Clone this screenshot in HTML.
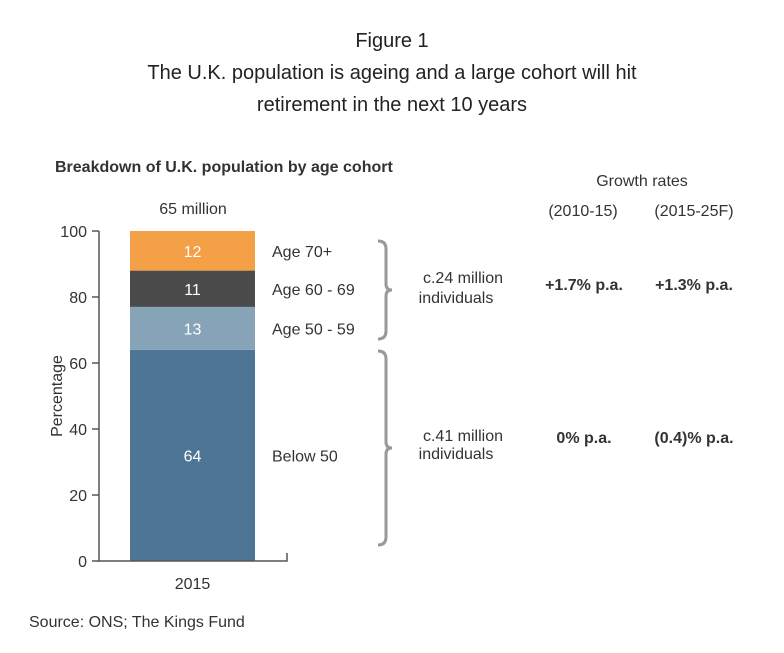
<!DOCTYPE html>
<html><head><meta charset="utf-8"><style>
body{margin:0;background:#fff;font-family:"Liberation Sans",sans-serif;}
svg text{font-family:"Liberation Sans",sans-serif;}
</style></head><body>
<svg width="784" height="648" viewBox="0 0 784 648">
<text x="392" y="47" text-anchor="middle" font-size="20" fill="#222">Figure 1</text>
<text x="392" y="79" text-anchor="middle" font-size="20" fill="#222">The U.K. population is ageing and a large cohort will hit</text>
<text x="392" y="111" text-anchor="middle" font-size="20" fill="#222">retirement in the next 10 years</text>
<text x="55" y="172" font-size="16" font-weight="bold" fill="#333">Breakdown of U.K. population by age cohort</text>
<text x="193" y="214" text-anchor="middle" font-size="16" fill="#333">65 million</text>
<text x="642" y="186" text-anchor="middle" font-size="16" fill="#333">Growth rates</text>
<text x="583" y="216" text-anchor="middle" font-size="16" fill="#333">(2010-15)</text>
<text x="694" y="216" text-anchor="middle" font-size="16" fill="#333">(2015-25F)</text>
<g id="plot"></g>
<text x="62" y="396" transform="rotate(-90 62 396)" text-anchor="middle" font-size="16" fill="#333">Percentage</text>
<path d="M378,241 q8,0 8,8 v35 q0,6 6,6 q-6,0 -6,6 v35 q0,8 -8,8" fill="none" stroke="#999" stroke-width="3"/>
<path d="M378,351 q8,0 8,8 v83 q0,6 6,6 q-6,0 -6,6 v83 q0,8 -8,8" fill="none" stroke="#999" stroke-width="3"/>
<text x="463" y="283" text-anchor="middle" font-size="16" fill="#333">c.24 million</text>
<text x="456" y="303" text-anchor="middle" font-size="16" fill="#333">individuals</text>
<text x="463" y="441" text-anchor="middle" font-size="16" fill="#333">c.41 million</text>
<text x="456" y="459" text-anchor="middle" font-size="16" fill="#333">individuals</text>
<text x="584" y="290" text-anchor="middle" font-size="16" font-weight="bold" fill="#333">+1.7% p.a.</text>
<text x="694" y="290" text-anchor="middle" font-size="16" font-weight="bold" fill="#333">+1.3% p.a.</text>
<text x="584" y="443" text-anchor="middle" font-size="16" font-weight="bold" fill="#333">0% p.a.</text>
<text x="694" y="443" text-anchor="middle" font-size="16" font-weight="bold" fill="#333">(0.4)% p.a.</text>
<text x="29" y="627" font-size="16" fill="#333">Source: ONS; The Kings Fund</text>
</svg>
<script>
const categories=["Below 50","Age 50 - 59","Age 60 - 69","Age 70+"];
const values=[64,13,11,12];
const colors=["#4e7694","#86a3b8","#4b4b4b","#f4a046"];
const yTicks=[0,20,40,60,80,100];
const xLabel="2015";
const NS="http://www.w3.org/2000/svg";
const g=document.getElementById('plot');
const y0=561,y100=231,axX=99,barL=130,barR=255;
function y(v){return y0-(y0-y100)*v/100;}
function mk(t,a,txt){const e=document.createElementNS(NS,t);for(const k in a)e.setAttribute(k,a[k]);if(txt!=null)e.textContent=txt;g.appendChild(e);return e;}
let cum=0;
values.forEach((v,i)=>{
  const r=mk('rect',{x:barL,y:y(cum+v),width:barR-barL,height:y(cum)-y(cum+v),fill:colors[i]});
  
  
  const t=mk('text',{x:(barL+barR)/2,y:(y(cum)+y(cum+v))/2+6,'text-anchor':'middle','font-size':16,fill:'#fff'},v);
  
  
  const l=mk('text',{x:272,y:(y(cum)+y(cum+v))/2+6,'font-size':16,fill:'#333'},categories[i]);
  
  
  cum+=v;
});
const ax=mk('path',{d:`M${axX},${y100}V${y0}H287V${y0-8}`,fill:'none',stroke:'#555','stroke-width':1.5});


yTicks.forEach(v=>{
  const tk=mk('line',{x1:axX-7,x2:axX,y1:y(v),y2:y(v),stroke:'#555','stroke-width':1.5});
  
  
  const tl=mk('text',{x:axX-12,y:y(v)+6,'text-anchor':'end','font-size':16,fill:'#333'},v);
  
  
});
const xl=mk('text',{x:(barL+barR)/2,y:589,'text-anchor':'middle','font-size':16,fill:'#333'},xLabel);


</script>
</body></html>
